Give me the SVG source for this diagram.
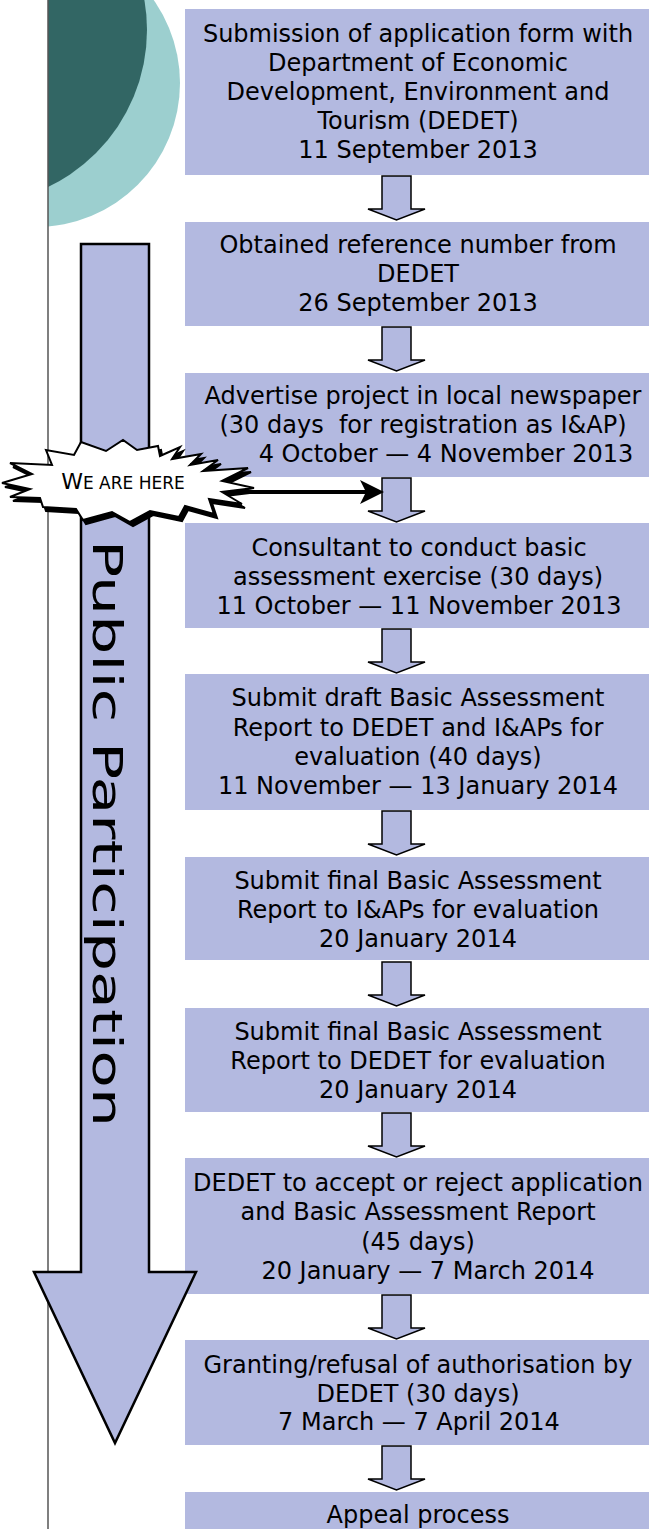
<svg xmlns="http://www.w3.org/2000/svg" width="650" height="1529" viewBox="0 0 650 1529">
<style>
.box{fill:#b3b9e0}
.t{font-family:"DejaVu Sans",Verdana,sans-serif;font-size:24px;fill:#000;text-anchor:middle}
.da{fill:#b3b9e0;stroke:#000;stroke-width:1.5;stroke-linejoin:miter}
</style>
<defs>
<clipPath id="clipR"><rect x="48" y="0" width="602" height="1529"/></clipPath>
<path id="darr" d="M382,0 H411 V33 H425 L396.5,44 L368,33 H382 Z"/>
</defs>
<rect width="650" height="1529" fill="#fff"/>
<g id="decor" clip-path="url(#clipR)">
<circle cx="36" cy="83" r="144" fill="#9ccfcf"/>
<circle cx="-27" cy="30" r="174" fill="#326664"/>
</g>
<line x1="48" y1="0" x2="48" y2="1529" stroke="#555" stroke-width="1.5"/>

<g id="n1">
<rect class="box" x="185" y="9" width="464" height="166"/>
<text class="t" x="418" y="42">Submission of application form with</text>
<text class="t" x="418" y="71">Department of Economic</text>
<text class="t" x="418" y="100">Development, Environment and</text>
<text class="t" x="418" y="129">Tourism (DEDET)</text>
<text class="t" x="418" y="158">11 September 2013</text>
</g>
<g id="n2">
<rect class="box" x="185" y="222" width="464" height="104"/>
<text class="t" x="418" y="253">Obtained reference number from</text>
<text class="t" x="418" y="282">DEDET</text>
<text class="t" x="418" y="311">26 September 2013</text>
</g>
<g id="n3">
<rect class="box" x="185" y="373" width="464" height="104"/>
<text class="t" x="423" y="404">Advertise project in local newspaper</text>
<text class="t" x="423" y="433" xml:space="preserve">(30 days  for registration as I&amp;AP)</text>
<text class="t" x="446" y="462">4 October — 4 November 2013</text>
</g>
<g id="n4">
<rect class="box" x="185" y="523" width="464" height="105"/>
<text class="t" x="419" y="556">Consultant to conduct basic</text>
<text class="t" x="418" y="585">assessment exercise (30 days)</text>
<text class="t" x="419" y="614">11 October — 11 November 2013</text>
</g>
<g id="n5">
<rect class="box" x="185" y="674" width="464" height="136"/>
<text class="t" x="418" y="706">Submit draft Basic Assessment</text>
<text class="t" x="418" y="736">Report to DEDET and I&amp;APs for</text>
<text class="t" x="418" y="765">evaluation (40 days)</text>
<text class="t" x="418" y="794">11 November — 13 January 2014</text>
</g>
<g id="n6">
<rect class="box" x="185" y="857" width="464" height="103"/>
<text class="t" x="418" y="889">Submit final Basic Assessment</text>
<text class="t" x="418" y="918">Report to I&amp;APs for evaluation</text>
<text class="t" x="418" y="947">20 January 2014</text>
</g>
<g id="n7">
<rect class="box" x="185" y="1008" width="464" height="104"/>
<text class="t" x="418" y="1040">Submit final Basic Assessment</text>
<text class="t" x="418" y="1069">Report to DEDET for evaluation</text>
<text class="t" x="418" y="1098">20 January 2014</text>
</g>
<g id="n8">
<rect class="box" x="185" y="1158" width="464" height="136"/>
<text class="t" x="418" y="1191">DEDET to accept or reject application</text>
<text class="t" x="418" y="1220">and Basic Assessment Report</text>
<text class="t" x="418" y="1250">(45 days)</text>
<text class="t" x="428" y="1279">20 January — 7 March 2014</text>
</g>
<g id="n9">
<rect class="box" x="185" y="1340" width="464" height="105"/>
<text class="t" x="418" y="1373">Granting/refusal of authorisation by</text>
<text class="t" x="418" y="1402">DEDET (30 days)</text>
<text class="t" x="419" y="1430">7 March — 7 April 2014</text>
</g>
<g id="n10">
<rect class="box" x="185" y="1492" width="464" height="37"/>
<text class="t" x="418" y="1523">Appeal process</text>
</g>

<g id="public-participation">
<path d="M81,244 H149 V1272 H196 L115,1443 L34,1272 H81 Z" fill="#b3b9e0" stroke="#000" stroke-width="2.5" stroke-linejoin="miter"/>
<text transform="translate(93,540) rotate(90)" font-family="'DejaVu Sans',Verdana,sans-serif" font-size="41" textLength="587" lengthAdjust="spacingAndGlyphs">Public Participation</text>
</g>

<g id="connectors">
<use href="#darr" class="da" transform="translate(0,176)"/>
<use href="#darr" class="da" transform="translate(0,327)"/>
<use href="#darr" class="da" transform="translate(0,478)"/>
<use href="#darr" class="da" transform="translate(0,629)"/>
<use href="#darr" class="da" transform="translate(0,811)"/>
<use href="#darr" class="da" transform="translate(0,962)"/>
<use href="#darr" class="da" transform="translate(0,1113)"/>
<use href="#darr" class="da" transform="translate(0,1295)"/>
<use href="#darr" class="da" transform="translate(0,1446)"/>
<line x1="225" y1="492" x2="368" y2="492" stroke="#000" stroke-width="4"/>
<path d="M384,492 L360,480 L366,492 L360,504 Z" fill="#000"/>
</g>

<g id="we-are-here">
<polygon transform="translate(3,4)" fill="#000" stroke="#000" stroke-width="2" points="2,483 32,474 10,463 52,465 46,450 74,455 81,442 106,451 123,440 137,450 158,446 160,456 180,447 172,459 201,454 190,465 218,460 203,471 248,468 222,481 254,488 222,492 242,504 209,499 214,514 185,506 179,517 150,511 130,522 112,512 83,520 76,509 43,507 40,498 10,497 30,489"/>
<polygon fill="#fff" stroke="#000" stroke-width="2" stroke-linejoin="miter" points="2,483 32,474 10,463 52,465 46,450 74,455 81,442 106,451 123,440 137,450 158,446 160,456 180,447 172,459 201,454 190,465 218,460 203,471 248,468 222,481 254,488 222,492 242,504 209,499 214,514 185,506 179,517 150,511 130,522 112,512 83,520 76,509 43,507 40,498 10,497 30,489"/>
<text x="123" y="489" text-anchor="middle" font-family="'DejaVu Sans',Verdana,sans-serif" fill="#000"><tspan font-size="22">W</tspan><tspan font-size="17">E ARE HERE</tspan></text>
</g>
</svg>
